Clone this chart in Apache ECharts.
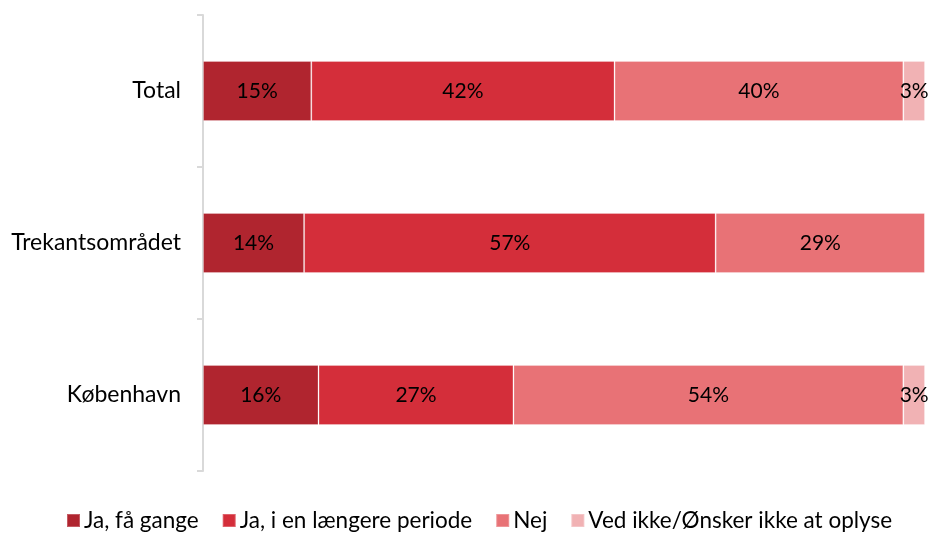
<!DOCTYPE html>
<html>
<head>
    <meta charset="utf-8">
    <script src="https://cdn.jsdelivr.net/npm/echarts@6/dist/echarts.min.js"></script>
</head>
<body style="margin:0">
<div id="main" style="width:928px;height:535px"></div>
<script type="text/javascript">
    var categories = ['København', 'Trekantsområdet', 'Total'];
    var seriesNames = ['Ja, få gange', 'Ja, i en længere periode', 'Nej', 'Ved ikke/Ønsker ikke at oplyse'];
    var faGange = [16, 14, 15];
    var laengerePeriode = [27, 57, 42];
    var nej = [54, 29, 40];
    var vedIkke = [3, 0, 3];
    var colors = ['#B0252F', '#D42E3A', '#E87276', '#F1B2B4'];

    var myChart = echarts.init(document.getElementById('main'));
    var font = 'Lato, "Open Sans", sans-serif';

    var values = [faGange, laengerePeriode, nej, vedIkke];
    var series = values.map(function (data, i) {
        return {
            name: seriesNames[i],
            type: 'bar',
            stack: 'all',
            barWidth: 60,
            data: data,
            itemStyle: {color: colors[i], borderColor: 'rgba(255,255,255,0.25)', borderWidth: 1},
            label: {
                show: true,
                color: '#000',
                fontFamily: font,
                fontSize: 21,
                formatter: function (p) { return p.value ? p.value + '%' : ''; }
            }
        };
    });

    option = {
        animation: false,
        color: colors,
        grid: {left: 203, right: 3, top: 15, bottom: 64},
        legend: {
            bottom: -2,
            left: 61,
            itemWidth: 13,
            itemHeight: 13,
            itemGap: 23,
            icon: 'rect',
            textStyle: {fontFamily: font, fontSize: 22.5, color: '#000', padding: [0, 0, 0, -1]},
            data: seriesNames
        },
        xAxis: {type: 'value', min: 0, max: 100, show: false},
        yAxis: {
            type: 'category',
            data: categories,
            axisLine: {lineStyle: {color: '#D9D9D9', width: 2}},
            axisTick: {show: true, length: 6, lineStyle: {color: '#D9D9D9', width: 2}},
            axisLabel: {fontFamily: font, fontSize: 23, color: '#000', margin: 22}
        },
        series: series
    };

    myChart.setOption(option);
</script>
</body>
</html>
